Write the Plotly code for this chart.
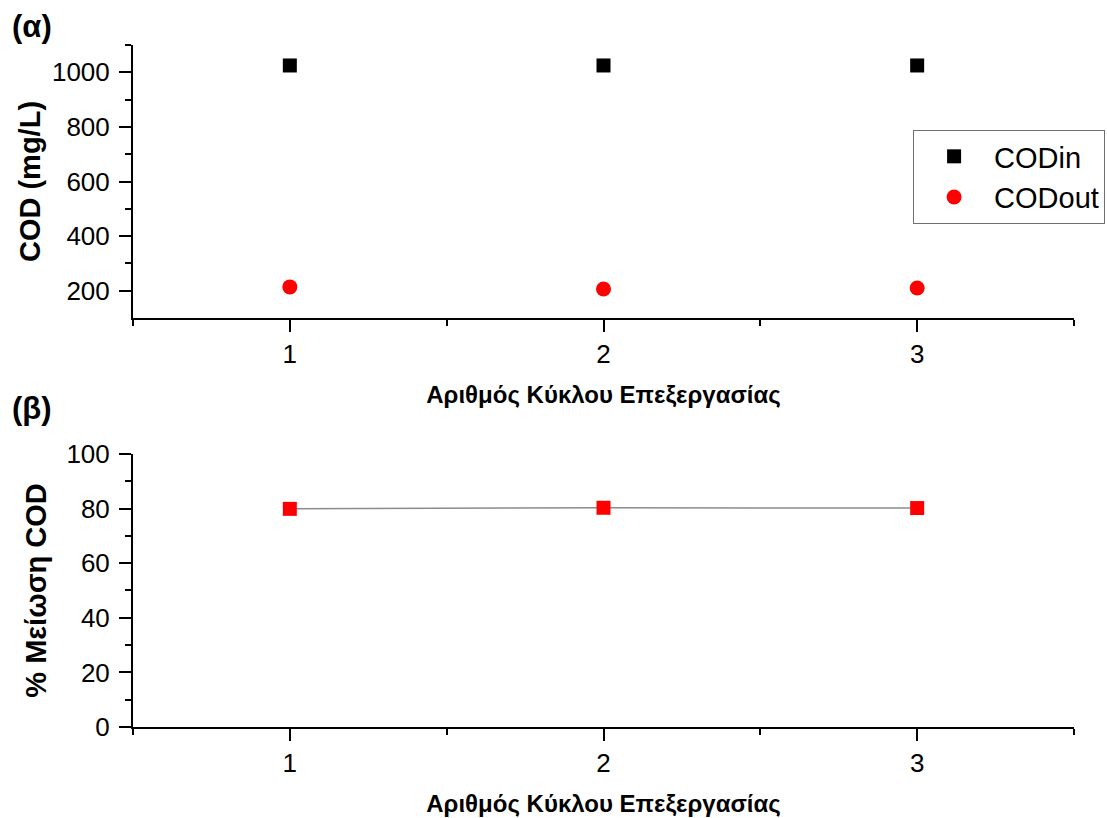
import plotly.graph_objects as go

cycles = [1, 2, 3]
cod_in = [1025, 1025, 1025]
cod_out = [214, 206, 210]
reduction = [79.9, 80.3, 80.2]

x_title = "Αριθμός Κύκλου Επεξεργασίας"
y1_title = "COD (mg/L)"
y2_title = "% Μείωση COD"

fig = go.Figure()
fig.add_trace(go.Scatter(x=cycles, y=cod_in, mode="markers", name="CODin",
                         marker=dict(symbol="square", size=14, color="black"),
                         xaxis="x", yaxis="y"))
fig.add_trace(go.Scatter(x=cycles, y=cod_out, mode="markers", name="CODout",
                         marker=dict(symbol="circle", size=15, color="#ff0000"),
                         xaxis="x", yaxis="y"))
fig.add_trace(go.Scatter(x=cycles, y=reduction, mode="lines+markers", name="% reduction",
                         showlegend=False,
                         line=dict(color="#8c8c8c", width=1.5),
                         marker=dict(symbol="square", size=14, color="#ff0000"),
                         xaxis="x2", yaxis="y2"))

xtickfont = dict(family="Liberation Sans Narrow, Arial Narrow, Liberation Sans", size=26, color="black")
xtitlefont = dict(family="Liberation Sans Narrow, Arial Narrow, Liberation Sans", size=24, color="black", weight="bold")
ytickfont = dict(family="Liberation Sans, Arial", size=26, color="black")
ytitlefont = dict(family="Liberation Sans, Arial", size=29, color="black", weight="bold")

def xaxis_cfg(anchor):
    return dict(anchor=anchor, range=[0.5, 3.5], tickvals=[1, 2, 3], ticktext=["1", "2", "3"],
                showline=True, linecolor="black", linewidth=2, ticks="outside", ticklen=12,
                tickwidth=2, tickcolor="black", showgrid=False, zeroline=False,
                tickfont=xtickfont,
                minor=dict(tickvals=[0.5, 1.5, 2.5, 3.5], ticks="outside", ticklen=6,
                           tickwidth=2, tickcolor="black", showgrid=False),
                title=dict(text=x_title, font=xtitlefont, standoff=18))

top = [0.5997, 1.0]
bot = [0.0, 0.4003]

fig.update_layout(
    width=1107, height=818,
    margin=dict(l=133, r=33, t=45, b=91, autoexpand=False),
    paper_bgcolor="white", plot_bgcolor="white",
    font=dict(family="Liberation Sans, Arial", color="black"),
    xaxis=dict(domain=[0, 1], **xaxis_cfg("y")),
    xaxis2=dict(domain=[0, 1], **xaxis_cfg("y2")),
    yaxis=dict(domain=top, anchor="x", range=[100, 1100],
               tickvals=[200, 400, 600, 800, 1000],
               showline=True, linecolor="black", linewidth=2, ticks="outside", ticklen=12,
               tickwidth=2, tickcolor="black", showgrid=False, zeroline=False,
               tickfont=ytickfont, ticklabelstandoff=4,
               minor=dict(tickvals=[300, 500, 700, 900, 1100], ticks="outside", ticklen=6,
                          tickwidth=2, tickcolor="black", showgrid=False),
               title=dict(text=y1_title, font=ytitlefont, standoff=3)),
    yaxis2=dict(domain=bot, anchor="x2", range=[0, 100],
                tickvals=[0, 20, 40, 60, 80, 100],
                showline=True, linecolor="black", linewidth=2, ticks="outside", ticklen=12,
                tickwidth=2, tickcolor="black", showgrid=False, zeroline=False,
                tickfont=ytickfont, ticklabelstandoff=4,
                minor=dict(tickvals=[10, 30, 50, 70, 90], ticks="outside", ticklen=6,
                           tickwidth=2, tickcolor="black", showgrid=False),
                title=dict(text=y2_title, font=ytitlefont, standoff=11)),
    legend=dict(x=0.829, y=0.8754, xanchor="left", yanchor="top",
                bgcolor="white", bordercolor="#707070", borderwidth=1,
                font=dict(family="Liberation Sans, Arial", size=29, color="black"),
                itemwidth=70),
    showlegend=True,
    annotations=[
        dict(text="<b>(α)</b>", xref="paper", yref="paper", x=-0.1307, y=1.027,
             xanchor="left", yanchor="middle", showarrow=False,
             font=dict(family="Liberation Sans, Arial", size=31, color="black")),
        dict(text="<b>(β)</b>", xref="paper", yref="paper", x=-0.1307, y=0.4677,
             xanchor="left", yanchor="middle", showarrow=False,
             font=dict(family="Liberation Sans, Arial", size=31, color="black")),
    ],
)

fig.write_html("out.html", config={"displayModeBar": False},
               post_script="document.body.style.margin='0px';document.body.style.padding='0px';")
